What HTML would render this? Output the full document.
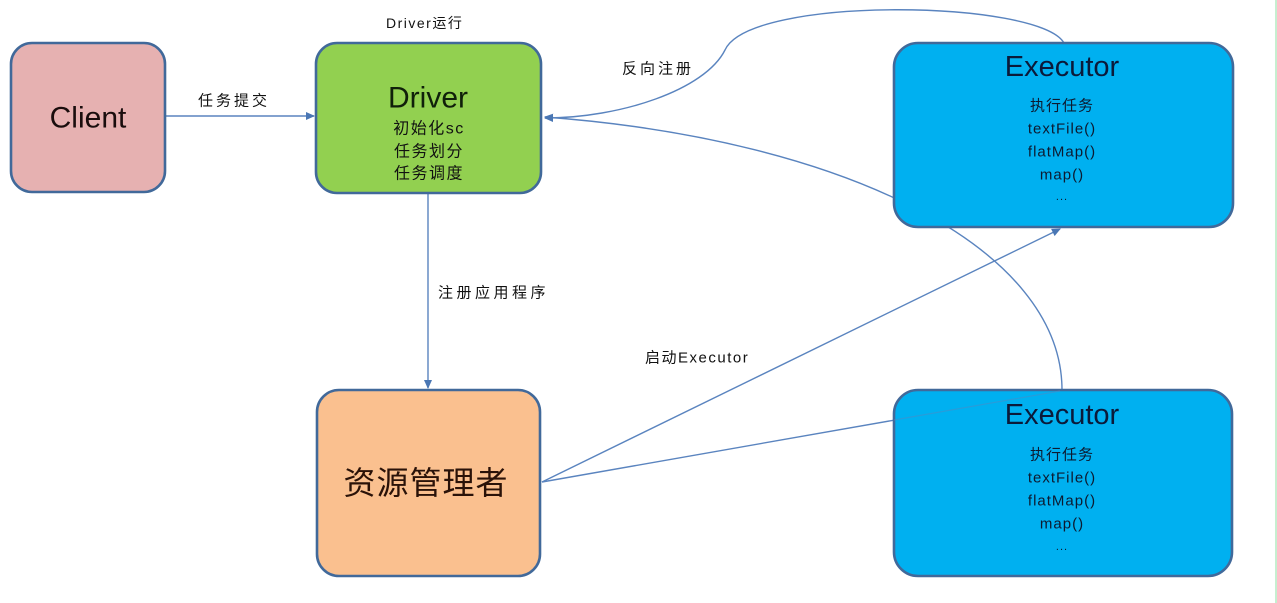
<!DOCTYPE html>
<html>
<head>
<meta charset="utf-8">
<style>
  html, body { margin:0; padding:0; background:#fff; }
  body { width:1277px; height:603px; overflow:hidden; }
  svg { display:block; }
  text { font-family: "Liberation Sans", "Noto Sans CJK SC", sans-serif; }
</style>
</head>
<body>
<svg width="1277" height="603" viewBox="0 0 1277 603" xmlns="http://www.w3.org/2000/svg">
  <defs>
    <marker id="ah" markerWidth="10" markerHeight="10" refX="8" refY="5" orient="auto" markerUnits="userSpaceOnUse">
      <path d="M0,1 L9,5 L0,9 Z" fill="#4a77b4"/>
    </marker>
  </defs>
  <rect x="0" y="0" width="1277" height="603" fill="#ffffff"/>
  <!-- right edge green line -->
  <rect x="1275" y="0" width="2" height="603" fill="#c6efd0"/>

  <!-- connectors drawn beneath boxes -->
  <g fill="none" stroke="#5a84bf" stroke-width="1.4">
    <!-- Client -> Driver -->
    <line x1="166" y1="116" x2="314" y2="116" marker-end="url(#ah)"/>
    <!-- Driver -> RM -->
    <line x1="428" y1="194" x2="428" y2="388" marker-end="url(#ah)"/>
    <!-- RM -> Executor top -->
    <line x1="542" y1="482" x2="1060" y2="229" marker-end="url(#ah)"/>
    <!-- RM -> Executor bottom -->
    <line x1="542" y1="482" x2="1060" y2="391"/>
    <!-- Executor bottom -> Driver (curve) -->
    <path d="M1062,390 C1062,250 850,140 545,117" marker-end="url(#ah)"/>
    <!-- Executor top -> Driver (reverse register) -->
    <path d="M1064,43 C1040,0 750,-5 725,50 C705,90 620,118 545,118" marker-end="url(#ah)"/>
  </g>

  <!-- boxes -->
  <g stroke="#41699a" stroke-width="2.6">
    <rect x="11" y="43" width="154" height="149" rx="21" fill="#e6b1b1"/>
    <rect x="316" y="43" width="225" height="150" rx="21" fill="#92d050"/>
    <rect x="317" y="390" width="223" height="186" rx="22" fill="#fac08f"/>
    <rect x="894" y="43" width="339" height="184" rx="24" fill="#00b0f0"/>
    <rect x="894" y="390" width="338" height="186" rx="24" fill="#00b0f0"/>
  </g>

  <!-- faint line over bottom executor box -->
  <line x1="894" y1="420" x2="1060" y2="391" stroke="#5a84bf" stroke-width="1.2" opacity="0.45"/>

  <!-- Client -->
  <text x="88" y="118" font-size="30" text-anchor="middle" dominant-baseline="central" fill="#1a0d0d">Client</text>

  <!-- Driver -->
  <text x="428" y="98" font-size="30" text-anchor="middle" dominant-baseline="central" fill="#10200a">Driver</text>
  <g font-size="16" text-anchor="middle" dominant-baseline="central" fill="#111" letter-spacing="1.5">
    <text x="429" y="129">初始化sc</text>
    <text x="429" y="152">任务划分</text>
    <text x="429" y="174">任务调度</text>
  </g>

  <!-- Resource manager -->
  <text x="426" y="483" font-size="32" text-anchor="middle" dominant-baseline="central" fill="#2a1208" letter-spacing="1">资源管理者</text>

  <!-- Executor top -->
  <text x="1062" y="67" font-size="29" text-anchor="middle" dominant-baseline="central" fill="#0b1a3a">Executor</text>
  <g font-size="15" text-anchor="middle" dominant-baseline="central" fill="#0d1a30" letter-spacing="1">
    <text x="1062" y="106">执行任务</text>
    <text x="1062" y="129">textFile()</text>
    <text x="1062" y="152">flatMap()</text>
    <text x="1062" y="175">map()</text>
    <text x="1062" y="197" font-size="11">...</text>
  </g>

  <!-- Executor bottom -->
  <text x="1062" y="415" font-size="29" text-anchor="middle" dominant-baseline="central" fill="#0b1a3a">Executor</text>
  <g font-size="15" text-anchor="middle" dominant-baseline="central" fill="#0d1a30" letter-spacing="1">
    <text x="1062" y="455">执行任务</text>
    <text x="1062" y="478">textFile()</text>
    <text x="1062" y="501">flatMap()</text>
    <text x="1062" y="524">map()</text>
    <text x="1062" y="547" font-size="11">...</text>
  </g>

  <!-- connector labels -->
  <g fill="#111" dominant-baseline="central">
    <text x="386" y="23" font-size="14" letter-spacing="1.5">Driver运行</text>
    <text x="198" y="101" font-size="15" letter-spacing="3">任务提交</text>
    <text x="622" y="69" font-size="15" letter-spacing="3">反向注册</text>
    <text x="438" y="293" font-size="15" letter-spacing="3.5">注册应用程序</text>
    <text x="645" y="358" font-size="15" letter-spacing="1.5">启动Executor</text>
  </g>
</svg>
</body>
</html>
